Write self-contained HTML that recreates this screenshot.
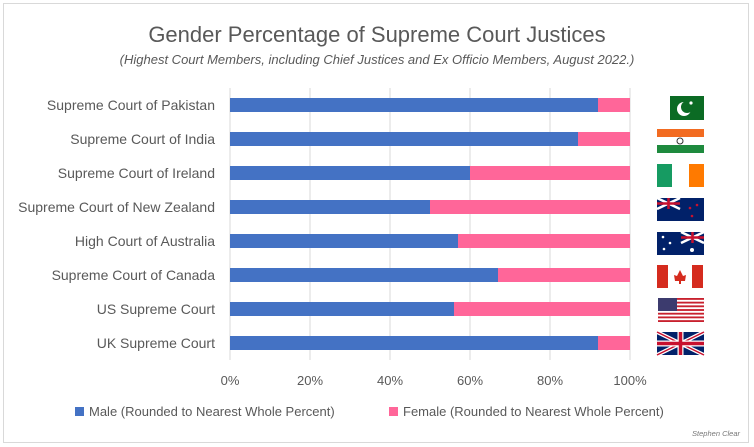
<!DOCTYPE html>
<html><head><meta charset="utf-8"><style>
html,body{margin:0;padding:0;background:#fff;}
svg{display:block;font-family:"Liberation Sans",sans-serif;}
</style></head><body>
<svg id="chart" width="754" height="447" viewBox="0 0 754 447">
<rect x="3.5" y="3.5" width="745" height="439" fill="#fff" stroke="#d9d9d9"/>
<text x="377" y="42" text-anchor="middle" font-size="22" fill="#595959">Gender Percentage of Supreme Court Justices</text>
<text x="377" y="64" text-anchor="middle" font-size="13" font-style="italic" fill="#595959">(Highest Court Members, including Chief Justices and Ex Officio Members, August 2022.)</text>
<g id="grid"></g><g id="bars"></g><g id="labels"></g><g id="ticks"></g>
<g id="flags">
<g><rect x="670" y="96" width="34" height="24" fill="#0b6b24"/><circle cx="684" cy="109" r="7" fill="#fff"/><circle cx="687" cy="107" r="6" fill="#0b6b24"/><circle cx="691" cy="103" r="1.6" fill="#fff"/></g>
<g><rect x="657" y="129" width="47" height="8" fill="#f26b21"/><rect x="657" y="137" width="47" height="8" fill="#fff"/><rect x="657" y="145" width="47" height="8" fill="#1e8a3e"/><circle cx="680" cy="141" r="3" fill="none" stroke="#333"/></g>
<g><rect x="657" y="164" width="15" height="23" fill="#169b62"/><rect x="689" y="164" width="15" height="23" fill="#ff7a00"/></g>
<g><rect x="657" y="198" width="47" height="23" fill="#012169"/><path d="M657 198l23 11M680 198l-23 11" stroke="#fff" stroke-width="2.5"/><path d="M668.5 198v11M657 203.5h23" stroke="#c8102e" stroke-width="2.5"/><circle cx="690" cy="208" r="1.3" fill="#c8102e"/><circle cx="697" cy="205" r="1.3" fill="#c8102e"/><circle cx="692" cy="216" r="1.3" fill="#c8102e"/></g>
<g><rect x="657" y="232" width="47" height="23" fill="#012169"/><path d="M681 232l23 11M704 232l-23 11" stroke="#fff" stroke-width="2.5"/><path d="M692.5 232v11M681 237.5h23" stroke="#c8102e" stroke-width="2.5"/><circle cx="663" cy="237" r="1.3" fill="#fff"/><circle cx="670" cy="243" r="1.3" fill="#fff"/><circle cx="664" cy="249" r="1.3" fill="#fff"/><circle cx="692" cy="250" r="2" fill="#fff"/></g>
<g><rect x="657" y="265" width="46" height="23" fill="#fff"/><rect x="657" y="265" width="11" height="23" fill="#d52b1e"/><rect x="692" y="265" width="11" height="23" fill="#d52b1e"/><path d="M680 270l3 6 3-1-1 6h-4v3h-2v-3h-4l-1-6 3 1z" fill="#d52b1e"/></g>
<g id="usflag"><rect x="658" y="298" width="46" height="24" fill="#fff"/></g>
<g><rect x="657" y="332" width="47" height="23" fill="#012169"/><path d="M657 332l47 23M704 332l-47 23" stroke="#fff" stroke-width="4"/><path d="M657 332l47 23M704 332l-47 23" stroke="#c8102e" stroke-width="1.5"/><path d="M680.5 332v23M657 343.5h47" stroke="#fff" stroke-width="6"/><path d="M680.5 332v23M657 343.5h47" stroke="#c8102e" stroke-width="3.5"/></g>
</g>
<g>
<rect x="75" y="407" width="9" height="9" fill="#4472c4"/>
<text x="89" y="416" font-size="13" fill="#595959">Male (Rounded to Nearest Whole Percent)</text>
<rect x="389" y="407" width="9" height="9" fill="#ff6699"/>
<text x="403" y="416" font-size="13" fill="#595959">Female (Rounded to Nearest Whole Percent)</text>
</g>
<text x="740" y="436" text-anchor="end" font-size="7.5" font-style="italic" fill="#777">Stephen Clear</text>
</svg>
<script>
const categories = ["Supreme Court of Pakistan","Supreme Court of India","Supreme Court of Ireland","Supreme Court of New Zealand","High Court of Australia","Supreme Court of Canada","US Supreme Court","UK Supreme Court"];
const maleValues = [92,87,60,50,57,67,56,92];
const femaleValues = [8,13,40,50,43,33,44,8];
const tickValues = [0,20,40,60,80,100];
const tickLabels = ["0%","20%","40%","60%","80%","100%"];
const NS="http://www.w3.org/2000/svg";
const x0=230,x1=630,yTop=88,band=34,bh=14;
const xs=v=>x0+(x1-x0)*v/100;
const yc=i=>yTop+band*i+band/2;
function mk(tag,attrs,parent){const e=document.createElementNS(NS,tag);for(const k in attrs)e.setAttribute(k,attrs[k]);parent.appendChild(e);return e;}
const grid=document.getElementById('grid'),bars=document.getElementById('bars'),labels=document.getElementById('labels'),ticks=document.getElementById('ticks');
tickValues.forEach((t,i)=>{
  const l=mk('line',{x1:xs(t),x2:xs(t),y1:yTop,y2:yTop+band*categories.length,stroke:'#d9d9d9'},grid);
  
  
  const tx=mk('text',{x:xs(t),y:385,'text-anchor':'middle','font-size':13,fill:'#595959'},ticks);
  tx.textContent=tickLabels[i];
  
  
});
categories.forEach((c,i)=>{
  const m=mk('rect',{x:xs(0),y:yc(i)-bh/2,width:xs(maleValues[i])-xs(0),height:bh,fill:'#4472c4'},bars);
  
  
  const f=mk('rect',{x:xs(maleValues[i]),y:yc(i)-bh/2,width:xs(maleValues[i]+femaleValues[i])-xs(maleValues[i]),height:bh,fill:'#ff6699'},bars);
  
  
  const t=mk('text',{x:215,y:yc(i)+5,'text-anchor':'end','font-size':14,fill:'#595959'},labels);
  t.textContent=c;
  
  
});
const us=document.getElementById('usflag');
for(let s=0;s<13;s++){if(s%2===0)mk('rect',{x:658,y:298+s*24/13,width:46,height:24/13,fill:'#c8202e'},us);}
mk('rect',{x:658,y:298,width:19,height:13,fill:'#3c3b6e'},us);
</script>
</body></html>
